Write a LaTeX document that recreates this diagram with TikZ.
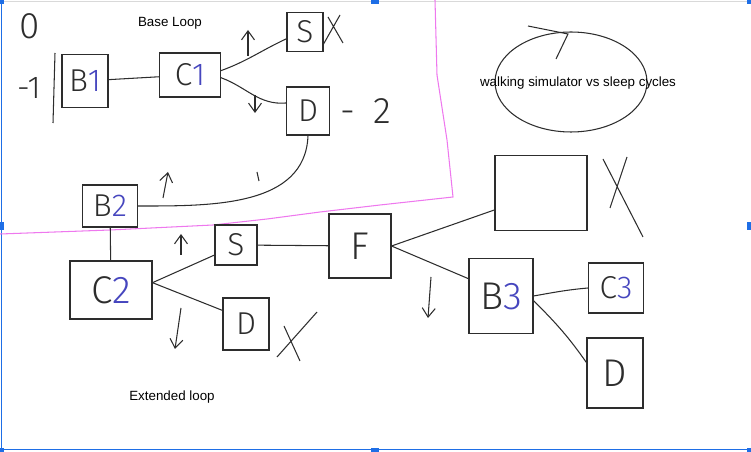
\documentclass[tikz,border=0pt]{standalone}
\usepackage{fontspec}
\setmainfont{Liberation Sans}
\newfontfamily\handfont{Fira Sans Light}
\usetikzlibrary{arrows.meta,shapes.geometric}
\definecolor{ink}{RGB}{45,45,45}
\definecolor{penblue}{RGB}{70,70,190}
\definecolor{marker}{RGB}{238,120,238}
\definecolor{handle}{RGB}{30,110,230}
\newcommand{\hand}{\handfont\fontsize{18}{18}\selectfont}
\newcommand{\bighand}{\handfont\fontsize{22}{22}\selectfont}
\newcommand{\typed}{\fontsize{7.6}{9}\selectfont}
\newcommand{\bl}[1]{\textcolor{penblue}{#1}}

\begin{document}
\begin{tikzpicture}[x=0.02cm, y=-0.02cm,
    box/.style={draw=ink, line width=0.6pt, inner sep=0pt, font=\hand, text=ink},
    wire/.style={draw=ink, line width=0.6pt},
    pen/.style={ink, line width=0.6pt, -{Straight Barb[length=1.8mm, width=2.6mm]}},
    note/.style={font=\typed, text=black, inner sep=0pt},
    scrawl/.style={font=\hand, text=ink, inner sep=0pt}
]
\useasboundingbox (0,0) rectangle (751,452);
% frame of the selected image
\draw[handle, line width=0.5pt] (1,0) -- (1,449) -- (751,449);
\draw[black!15, line width=0.5pt] (1,1) -- (751,1);
\foreach \hx/\hy in {0/0, 375/0, 751/0, 0/226, 751/226, 0/452, 375/452, 751/452}
  \fill[handle] (\hx-4,\hy-4) rectangle (\hx+4,\hy+4);

% base loop
\node[note] (basetitle) at (170,23) {Base Loop};
\node[scrawl, font=\handfont\fontsize{21}{21}\selectfont] (zero) at (30,26) {0};
\node[scrawl] (minusone) at (29,88) {-1};
\node[box, minimum width=0.92cm, minimum height=1.06cm] (b1) at (85,81) {B\bl{1}};
\node[box, minimum width=1.22cm, minimum height=0.88cm] (c1) at (190,75) {C\bl{1}};
\node[box, minimum width=0.72cm, minimum height=0.78cm] (s1) at (305,32) {S};
\node[box, minimum width=0.86cm, minimum height=0.96cm] (d1) at (308,111) {D};
\node[scrawl, font=\handfont\fontsize{21}{21}\selectfont] (two) at (366,111) {-\enspace 2};
\node[box, minimum width=1.1cm, minimum height=0.84cm] (b2) at (110,206) {B\bl{2}};

\draw[wire] (55,53) -- (53,123);
\draw[wire] (b1) -- (c1);
\draw[wire] (c1.8) to[out=20, in=205] (s1.-160);
\draw[wire] (c1.-5) to[out=-20, in=185] (d1.160);
\draw[wire] (d1.south) to[out=-92, in=0] (b2.east);
\draw[wire] (328,17) -- (343,43) (340,15) -- (323,45);
\draw[wire] (257,172) -- (259,181);
\draw[pen] (248,56) -- (248,30);
\draw[pen] (255,95) -- (255,113);
\draw[pen] (163,198) -- (168,172);

% pink border
\draw[marker, line width=0.6pt] (435,0) -- (437,75) -- (447,140) -- (453,197) -- (380,205)
  -- (320,212) -- (267,219) -- (213,225) -- (110,230) -- (0,234);

% extended loop
\node[box, font=\bighand, minimum width=1.64cm, minimum height=1.16cm] (c2) at (111,290) {C\bl{2}};
\node[box, minimum width=0.84cm, minimum height=0.8cm] (s2) at (236,245) {S};
\node[box, minimum width=0.92cm, minimum height=1.04cm] (d2) at (246,324) {D};
\node[box, font=\bighand, minimum width=1.24cm, minimum height=1.28cm] (f) at (360,246) {F};
\node[box, minimum width=1.84cm, minimum height=1.5cm] (blank) at (541,193) {};
\node[box, font=\bighand, minimum width=1.28cm, minimum height=1.5cm] (b3) at (501,296) {B\bl{3}};
\node[box, minimum width=1.1cm, minimum height=1.0cm] (c3) at (616,288) {C\bl{3}};
\node[box, font=\bighand, minimum width=1.12cm, minimum height=1.4cm] (d3) at (615,373) {D};
\node[note] (exttitle) at (172,397) {Extended loop};

\draw[wire] (b2) -- (c2);
\draw[wire] (c2.10) -- (s2.-155);
\draw[wire] (c2.10) -- (d2.150);
\draw[wire] (s2) -- (f);
\draw[wire] (f.east) -- (blank.-160);
\draw[wire] (f.east) -- (b3.152);
\draw[wire] (b3.east) to[out=10, in=185] (c3.west);
\draw[wire] (b3.-8) to[out=-45, in=125] (d3.160);
\draw[wire] (317,312) -- (277,357) (284,326) -- (300,361);
\draw[wire] (603,159) -- (643,237) (627,157) -- (610,208);
\draw[pen] (181,255) -- (181,234);
\draw[pen] (181,308) -- (175,349);
\draw[pen] (431,277) -- (428,318);

% cycle
\node[draw=ink, ellipse, line width=0.6pt, minimum width=3.04cm, minimum height=2cm, inner sep=0pt] (cycle) at (571,82) {};
\draw[wire] (528,26) -- (568,34) -- (556,59);
\node[note] (cyclelabel) at (578,83) {walking simulator vs sleep cycles};
\end{tikzpicture}
\end{document}
